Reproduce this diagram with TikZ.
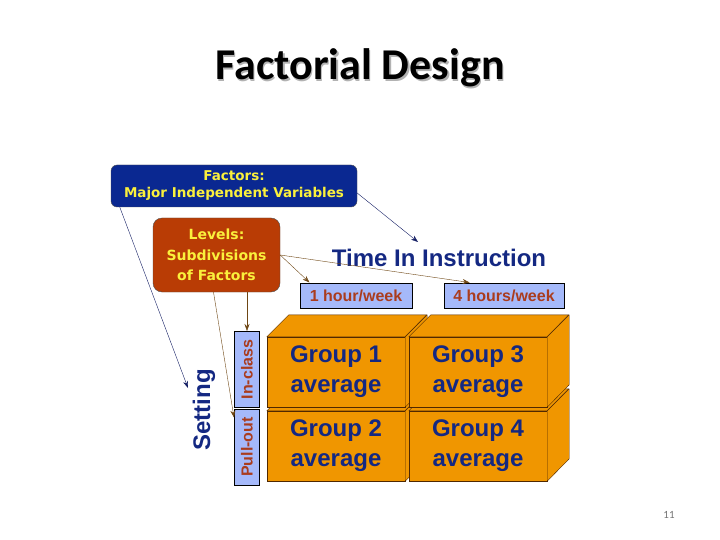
\documentclass[tikz,border=0pt]{standalone}
\usepackage{fontspec}
\setmainfont{Liberation Sans}
\newfontfamily\titlefont{Carlito}
\newfontfamily\boxfont{DejaVu Sans}
\usetikzlibrary{arrows.meta}

\definecolor{factorsblue}{RGB}{10,40,145}
\definecolor{levelsred}{RGB}{185,60,5}
\definecolor{boxyellow}{RGB}{250,240,60}
\definecolor{labelblue}{RGB}{165,185,250}
\definecolor{labelbrown}{RGB}{170,60,30}
\definecolor{cubeorange}{RGB}{240,150,0}
\definecolor{cubeedge}{RGB}{80,40,0}
\definecolor{textnavy}{RGB}{20,40,130}
\definecolor{arrownavy}{RGB}{20,30,100}
\definecolor{arrowbrown}{RGB}{110,70,20}

\tikzset{
  infobox/.style={draw=black!70, rounded corners=6pt, text=boxyellow, align=center, inner sep=0pt},
  levellabel/.style={draw=black, line width=1pt, fill=labelblue, text=labelbrown, inner sep=0pt,
    font=\fontsize{16}{18}\selectfont\bfseries},
  cubefront/.style={draw=cubeedge, fill=cubeorange, text=textnavy, align=center, inner sep=0pt,
    minimum width=138pt, minimum height=70pt, font=\fontsize{24}{30}\selectfont\bfseries},
  cubeside/.style={draw=cubeedge, fill=cubeorange, line join=round},
  axistitle/.style={text=textnavy, font=\fontsize{24}{28}\selectfont\bfseries},
  navyarrow/.style={draw=arrownavy, -{Stealth[length=7pt,width=5pt]}},
  brownarrow/.style={draw=arrowbrown, -{Stealth[length=7pt,width=5pt]}}
}

\begin{document}
\begin{tikzpicture}[x=1pt, y=-1pt]

	% ---- Page frame ----
	\useasboundingbox (0,0) rectangle (720,540);

	% ---- Title ----
	\node[text=black!30, font=\titlefont\fontsize{44}{48}\selectfont\bfseries] at (361.5,69.5) {Factorial Design};
	\node[font=\titlefont\fontsize{44}{48}\selectfont\bfseries] (title) at (360,68) {Factorial Design};

	% ---- Factors and levels ----
	\node[infobox, fill=factorsblue, minimum width=246pt, minimum height=42pt,
	      font=\boxfont\fontsize{13.5}{17}\selectfont\bfseries] (factors) at (234,186)
	      {Factors:\\Major Independent Variables};
	\node[infobox, fill=levelsred, rounded corners=9pt, minimum width=127pt, minimum height=74pt,
	      font=\boxfont\fontsize{14}{20.5}\selectfont\bfseries] (levels) at (216.5,255)
	      {Levels:\\Subdivisions\\of Factors};

	% ---- Factor names ----
	\node[axistitle] (time) at (439,258) {Time In Instruction};
	\node[axistitle, rotate=90] (setting) at (204,410) {Setting};

	% ---- Level labels ----
	\node[levellabel, minimum width=112pt, minimum height=25pt] (hour1) at (356,295.5) {1 hour/week};
	\node[levellabel, minimum width=120pt, minimum height=25pt] (hour4) at (504,295.5) {4 hours/week};
	\node[levellabel, rotate=90, minimum width=76pt, minimum height=25pt] (inclass) at (247,369.5) {In-class};
	\node[levellabel, rotate=90, minimum width=76pt, minimum height=25pt] (pullout) at (247,447) {Pull-out};

	% ---- Cells (drawn back to front) ----
	\foreach \name/\cx/\cy/\txt in {
		g2/336/446/Group 2,
		g1/336/372/Group 1,
		g4/478/446/Group 4,
		g3/478/372/Group 3
	}
	{
		\node[cubefront] (\name) at (\cx,\cy) {\txt\\average};
		\draw[cubeside] (\name.north west) -- ++(22,-22) -- ++(138,0) -- (\name.north east) -- cycle;
		\draw[cubeside] (\name.north east) -- ++(22,-22) -- ++(0,70) -- (\name.south east) -- cycle;
	}

	% ---- Arrow ends ----
	\coordinate (settingTip) at (188,388);
	\coordinate (timeTip) at (418,242);

	% ---- Connectors ----
	\draw[navyarrow] ([xshift=9pt]factors.south west) -- (settingTip);
	\draw[navyarrow] ([yshift=-7pt]factors.east) -- (timeTip);
	\draw[brownarrow] (levels.east) -- ([xshift=10pt]hour1.north west);
	\draw[brownarrow] (levels.east) -- ([xshift=26pt]hour4.north west);
	\draw[brownarrow] (inclass.east |- levels.south) -- (inclass.east);
	\draw[brownarrow] ([xshift=-3pt]levels.south) -- ([yshift=-9pt]pullout.north east);

	% ---- Page number ----
	\node[text=black!55, font=\titlefont\fontsize{11}{13}\selectfont] (pagenum) at (669,515) {11};

\end{tikzpicture}
\end{document}
